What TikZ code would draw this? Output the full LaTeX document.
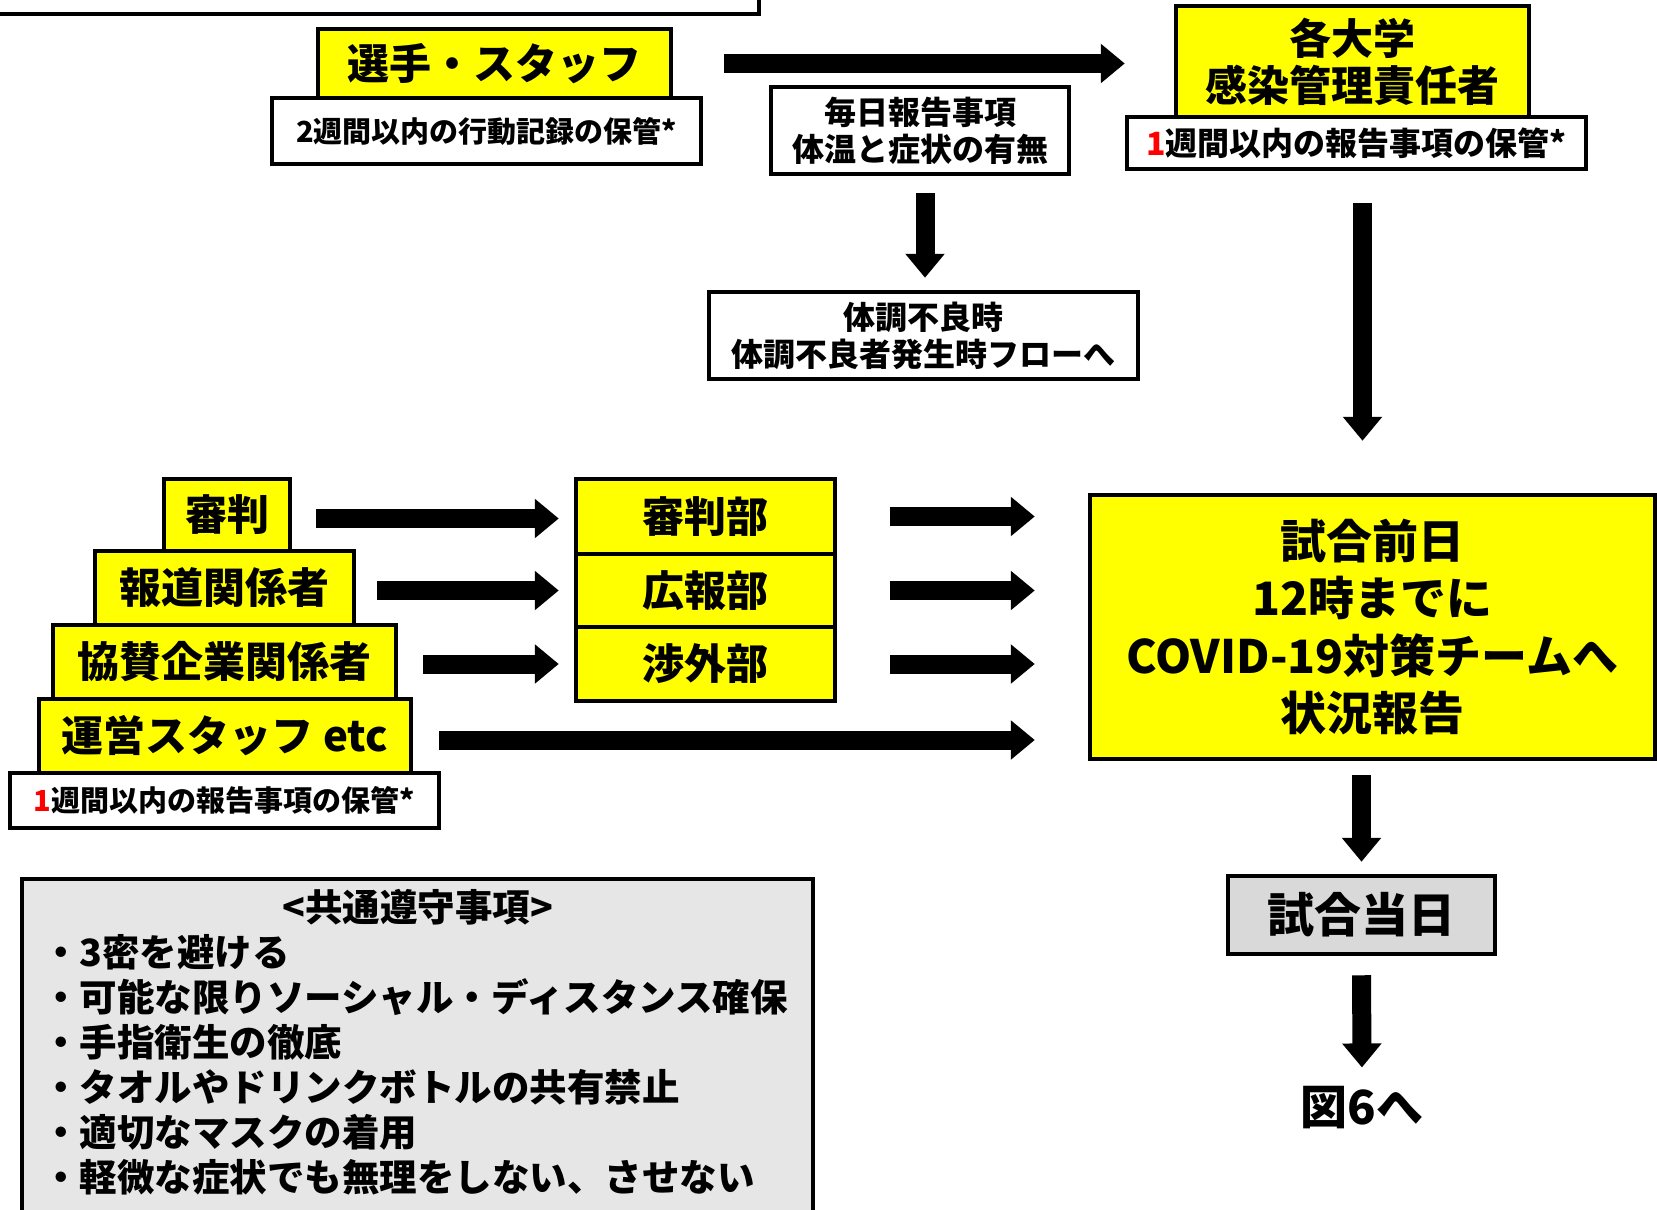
\documentclass[tikz,border=0pt]{standalone}
\usepackage{fontspec}
\setmainfont{Noto Sans CJK JP}
\usetikzlibrary{arrows.meta}
\definecolor{boxyellow}{HTML}{FFFF00}
\definecolor{rulegray}{HTML}{E6E6E6}
\definecolor{daygray}{HTML}{D9D9D9}
\tikzset{
  every picture/.style={
    line width=2.25pt,
    >={Triangle[width=19pt, length=12pt]}
  },
  box/.style={
    draw, fill=white, align=center,
    inner sep=0pt,
    font=\bfseries\fontsize{16pt}{18.5pt}\selectfont
  },
  smallbox/.style={
    box,
    font=\bfseries\fontsize{14.5pt}{17pt}\selectfont
  },
  yellowbox/.style={
    box, fill=boxyellow,
    font=\bfseries\fontsize{21pt}{23.5pt}\selectfont
  },
  flow/.style={
    ->, line width=9.5pt
  }
}

\begin{document}
\begin{tikzpicture}[x=0.5pt, y=-0.5pt]
    \useasboundingbox (0,0) rectangle (1657,1209);
    \clip (0,0) rectangle (1657,1209);
    % players and staff
    \node [box, minimum width=384.5pt, minimum height=57pt] (memo) at (374.5,-43) {};
    \node [smallbox, minimum width=214.5pt, minimum height=33pt] (playerlog) at (486.5,131) {2週間以内の行動記録の保管*};
    \node [yellowbox, minimum width=176.5pt, minimum height=34.5pt] (player) at (494.5,63.5) {選手・スタッフ};
    \node [box, minimum width=149pt, minimum height=43.5pt] (daily) at (920,130.5) {毎日報告事項\\体温と症状の有無};
    \node [box, minimum width=214.5pt, minimum height=43.5pt] (sick) at (923.5,335.5) {体調不良時\\体調不良者発生時フローへ};
    \node [box, minimum width=229.5pt, minimum height=26pt] (univlog) at (1356.5,143) {{\color{red}1}週間以内の報告事項の保管*};
    \node [yellowbox, minimum width=176.5pt, minimum height=55.5pt] (univ) at (1352.5,61.5) {各大学\\感染管理責任者};
    % others
    \node [yellowbox, minimum width=63pt, minimum height=36pt] (referee) at (227,515) {審判};
    \node [yellowbox, minimum width=129.5pt, minimum height=37pt] (press) at (224.5,588) {報道関係者};
    \node [yellowbox, minimum width=171.5pt, minimum height=37pt] (sponsor) at (224.5,662) {協賛企業関係者};
    \node [smallbox, minimum width=214.5pt, minimum height=27.5pt] (stafflog) at (224.5,800.5) {{\color{red}1}週間以内の報告事項の保管*};
    \node [yellowbox, minimum width=186pt, minimum height=37pt] (staff) at (225,736) {運営スタッフ etc};
    \node [yellowbox, minimum width=129.5pt, minimum height=37.5pt] (refdept) at (705.5,516.5) {審判部};
    \node [yellowbox, minimum width=129.5pt, minimum height=36.5pt] (prdept) at (705.5,590.5) {広報部};
    \node [yellowbox, minimum width=129.5pt, minimum height=37pt] (extdept) at (705.5,664) {渉外部};
    % report
    \node [yellowbox, minimum width=282.5pt, minimum height=132pt,
      font=\bfseries\fontsize{23pt}{28.75pt}\selectfont] (report) at (1372.5,627) {試合前日\\12時までに\\COVID-19対策チームへ\\状況報告};
    \node [box, fill=daygray, minimum width=133.5pt, minimum height=39pt,
      font=\bfseries\fontsize{23.5pt}{28pt}\selectfont] (gameday) at (1361.5,915) {試合当日};
    \node [inner sep=0pt, font=\bfseries\fontsize{23.5pt}{28pt}\selectfont] (fig6) at (1362,1108) {図6へ};
    % common rules
    \node [box, fill=rulegray, minimum width=395.5pt, minimum height=180pt] (rules) at (417.5,1059) {};
    \node [anchor=north, text width=375.5pt, align=left, inner sep=0pt,
      font=\bfseries\fontsize{18.75pt}{22.5pt}\selectfont] (rulestext) at ([yshift=-5pt]rules.north) {{\centering <共通遵守事項>\par}
      ・3密を避ける\\
      ・可能な限りソーシャル・ディスタンス確保\\
      ・手指衛生の徹底\\
      ・タオルやドリンクボトルの共有禁止\\
      ・適切なマスクの着用\\
      ・軽微な症状でも無理をしない、させない};
    % arrows
    \draw [flow, shorten <=25.5pt, shorten >=24.5pt] (player.east) -- (player.east -| univ.west);
    \draw [flow, shorten <=8.5pt, shorten >=6pt] ([xshift=2.5pt]daily.south) -- ([xshift=2.5pt]daily.south |- sick.north);
    \draw [flow, shorten <=16pt, shorten >=26pt] ([xshift=3pt]univlog.south) -- ([xshift=3pt]univlog.south |- report.north);
    \draw [flow, shorten <=12pt, shorten >=7.5pt] ([yshift=-1pt]refdept.west -| referee.east) -- ([yshift=-1pt]refdept.west);
    \draw [flow, shorten <=10.5pt, shorten >=7.5pt] (prdept.west -| press.east) -- (prdept.west);
    \draw [flow, shorten <=12.5pt, shorten >=7.5pt] (extdept.west -| sponsor.east) -- (extdept.west);
    \draw [flow, shorten <=13pt, shorten >=26.5pt] ([yshift=-2pt]staff.east) -- ([yshift=-2pt]staff.east -| report.west);
    \foreach \dept in {refdept,prdept,extdept}
      \draw [flow, shorten <=26.5pt, shorten >=26.5pt] (\dept.east) -- (\dept.east -| report.west);
    \draw [flow, shorten <=7pt, shorten >=6pt] (gameday.north |- report.south) -- (gameday.north);
    \draw [flow, shorten <=9.5pt, shorten >=8.5pt] (gameday.south) -- (fig6.north);
  \end{tikzpicture}
\end{document}
